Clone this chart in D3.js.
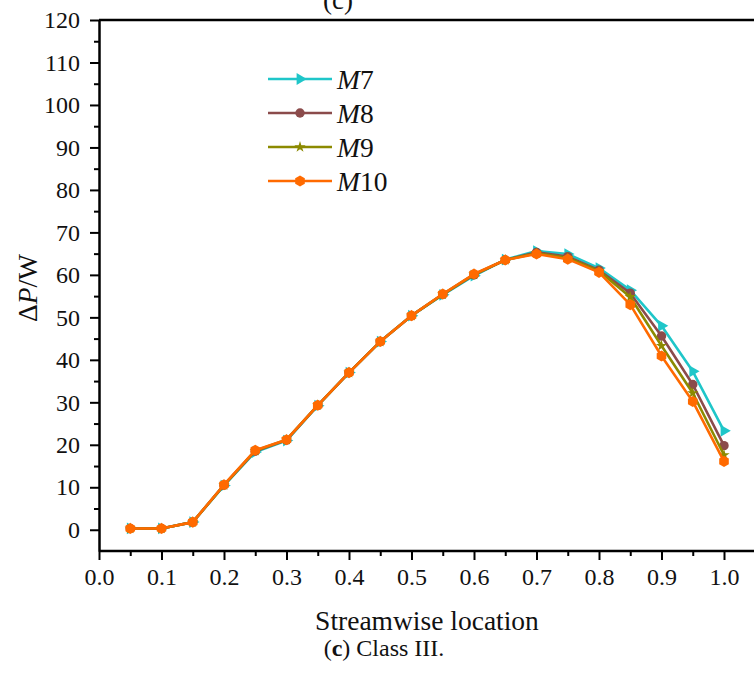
<!DOCTYPE html>
<html>
<head>
<meta charset="utf-8">
<script src="https://cdn.jsdelivr.net/npm/d3@7"></script>
<style>
  body { margin: 0; background: #fff; }
  svg { display: block; }
  svg text { font-family: "Liberation Serif", "Times New Roman", serif; fill: #111; }
</style>
</head>
<body>
<script>
//==============================================================================
// DATA
//==============================================================================

const locations = [0.05, 0.1, 0.15, 0.2, 0.25, 0.3, 0.35, 0.4, 0.45, 0.5,
  0.55, 0.6, 0.65, 0.7, 0.75, 0.8, 0.85, 0.9, 0.95, 1.0];

const m7 = [0.3, 0.3, 1.8, 10.4, 18.3, 21.0, 29.2, 37.0, 44.3, 50.4,
  55.3, 59.8, 63.6, 65.6, 64.9, 61.6, 56.4, 48.0, 37.3, 23.3];
const m8 = [0.3, 0.3, 1.8, 10.5, 18.5, 21.1, 29.3, 37.0, 44.3, 50.4,
  55.4, 60.0, 63.5, 65.3, 64.3, 61.1, 55.7, 45.6, 34.2, 19.8];
const m9 = [0.3, 0.3, 1.8, 10.5, 18.6, 21.2, 29.3, 37.0, 44.3, 50.4,
  55.4, 60.1, 63.5, 65.1, 64.0, 60.9, 54.8, 43.3, 32.2, 17.6];
const m10 = [0.3, 0.3, 1.8, 10.6, 18.7, 21.2, 29.3, 37.0, 44.3, 50.4,
  55.5, 60.2, 63.5, 64.9, 63.7, 60.6, 53.0, 40.9, 30.2, 16.1];

const seriesNames = ['7', '8', '9', '10'];
const xTicks = [0, 0.1, 0.2, 0.3, 0.4, 0.5, 0.6, 0.7, 0.8, 0.9, 1.0];
const yTicks = [0, 10, 20, 30, 40, 50, 60, 70, 80, 90, 100, 110, 120];

//==============================================================================
// PARAMETERS
//==============================================================================

const W = 754, H = 675;
const plotLeft = 99, plotTop = 20;

const x = d3.scaleLinear().domain([0, 1.05]).range([plotLeft, plotLeft + 656.25]);
const y = d3.scaleLinear().domain([-5, 120]).range([551, plotTop]);

const colors = ['#1fc6c9', '#8b4b4b', '#8c8a00', '#ff6a00'];
const values = [m7, m8, m9, m10];

// marker shapes
const hexagon = {
  draw(ctx, size) {
    const r = Math.sqrt(size / 2.6);
    for (let i = 0; i < 6; i++) {
      const a = Math.PI / 6 + i * Math.PI / 3;
      if (i === 0) ctx.moveTo(r * Math.cos(a), r * Math.sin(a));
      else ctx.lineTo(r * Math.cos(a), r * Math.sin(a));
    }
    ctx.closePath();
  }
};
const markers = [
  { type: d3.symbolTriangle, size: 60, rotate: 90 },
  { type: d3.symbolCircle, size: 70, rotate: 0 },
  { type: d3.symbolStar, size: 40, rotate: 0 },
  { type: hexagon, size: 80, rotate: 0 }
];

const svg = d3.select('body').append('svg')
  .attr('width', W)
  .attr('height', H);

//==============================================================================
// DRAW
//==============================================================================

// panel tag, cut by the top edge as in the source figure
svg.append('text')
  .attr('x', 338)
  .attr('y', 9)
  .attr('text-anchor', 'middle')
  .attr('font-size', 27)
  .text('(c)');

// x axis
const xAxis = svg.append('g')
  .attr('transform', `translate(0,${y(-5)})`)
  .call(d3.axisBottom(x).tickValues(xTicks).tickFormat(d3.format('.1f')).tickSize(9).tickSizeOuter(0));
xAxis.select('.domain').attr('stroke-width', 2.5).attr('d', `M${plotLeft},0H${W}`);
xAxis.selectAll('.tick line').attr('stroke-width', 2);
xAxis.selectAll('.tick text')
  .attr('font-size', 24)
  .attr('font-family', null)
  .attr('y', 34)
  .attr('dy', 0);

const xMinor = svg.append('g')
  .attr('transform', `translate(0,${y(-5)})`)
  .call(d3.axisBottom(x).tickValues(d3.range(0.05, 1.05, 0.1)).tickFormat('').tickSize(5).tickSizeOuter(0));
xMinor.select('.domain').remove();
xMinor.selectAll('.tick line').attr('stroke-width', 2);

// y axis
const yAxis = svg.append('g')
  .attr('transform', `translate(${plotLeft},0)`)
  .call(d3.axisLeft(y).tickValues(yTicks).tickSize(9).tickSizeOuter(0));
yAxis.select('.domain').attr('stroke-width', 2.5);
yAxis.selectAll('.tick line').attr('stroke-width', 2);
yAxis.selectAll('.tick text')
  .attr('font-size', 24)
  .attr('x', -19);

const yMinor = svg.append('g')
  .attr('transform', `translate(${plotLeft},0)`)
  .call(d3.axisLeft(y).tickValues(d3.range(5, 120, 10)).tickFormat('').tickSize(5).tickSizeOuter(0));
yMinor.select('.domain').remove();
yMinor.selectAll('.tick line').attr('stroke-width', 2);

// top frame line
svg.append('line')
  .attr('x1', plotLeft).attr('x2', W)
  .attr('y1', y(120)).attr('y2', y(120))
  .attr('stroke', '#000')
  .attr('stroke-width', 2.5);

// series
const line = d3.line()
  .x((d, i) => x(locations[i]))
  .y(d => y(d));

values.forEach((vals, s) => {
  const g = svg.append('g').attr('class', 'series');
  g.append('path')
    .datum(vals)
    .attr('fill', 'none')
    .attr('stroke', colors[s])
    .attr('stroke-width', 2.6)
    .attr('stroke-linejoin', 'round')
    .attr('d', line);
  g.selectAll('path.marker')
    .data(vals)
    .enter()
    .append('path')
    .attr('class', 'marker')
    .attr('fill', colors[s])
    .attr('transform', (d, i) => `translate(${x(locations[i])},${y(d)}) rotate(${markers[s].rotate})`)
    .attr('d', d3.symbol().type(markers[s].type).size(markers[s].size));
});

// legend
const legend = svg.append('g');
seriesNames.forEach((name, s) => {
  const ly = 79 + s * 34;
  legend.append('line')
    .attr('x1', 268).attr('x2', 332)
    .attr('y1', ly).attr('y2', ly)
    .attr('stroke', colors[s])
    .attr('stroke-width', 2.6);
  legend.append('path')
    .attr('fill', colors[s])
    .attr('transform', `translate(300,${ly}) rotate(${markers[s].rotate})`)
    .attr('d', d3.symbol().type(markers[s].type).size(markers[s].size));
  const t = legend.append('text')
    .attr('x', 337)
    .attr('y', ly + 10)
    .attr('font-size', 27.5);
  t.append('tspan').attr('font-style', 'italic').text('M');
  t.append('tspan').text(name);
});

// axis titles
svg.append('text')
  .attr('x', 427)
  .attr('y', 630)
  .attr('text-anchor', 'middle')
  .attr('font-size', 27.5)
  .text('Streamwise location');

const yt = svg.append('text')
  .attr('transform', 'translate(37,288) rotate(-90)')
  .attr('text-anchor', 'middle')
  .attr('font-size', 27.5);
yt.append('tspan').text('Δ');
yt.append('tspan').attr('font-style', 'italic').text('P');
yt.append('tspan').text('/W');

// caption
const cap = svg.append('text')
  .attr('x', 384)
  .attr('y', 656)
  .attr('text-anchor', 'middle')
  .attr('font-size', 24);
cap.append('tspan').text('(');
cap.append('tspan').attr('font-weight', 'bold').text('c');
cap.append('tspan').text(') Class III.');
</script>
</body>
</html>
